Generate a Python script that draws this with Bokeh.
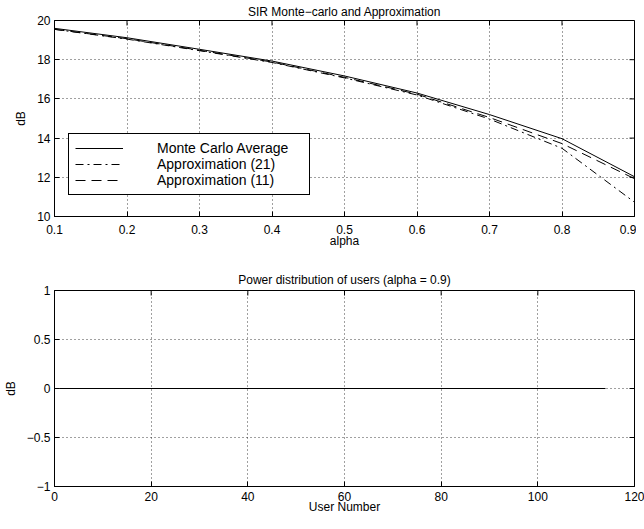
from bokeh.plotting import figure
from bokeh.layouts import column
from bokeh.models import Range1d, FixedTicker, Legend, LegendItem
from bokeh.embed import file_html
from bokeh.resources import INLINE

# ---- data ----
alpha_values = [0.1, 0.2, 0.3, 0.4, 0.5, 0.6, 0.7, 0.8, 0.9]
monte_carlo_avg = [19.6, 19.12, 18.53, 17.93, 17.17, 16.3, 15.2, 13.97, 12.03]
approx_21 = [19.55, 19.05, 18.46, 17.86, 17.07, 16.2, 14.97, 13.48, 10.73]
approx_11 = [19.55, 19.07, 18.48, 17.88, 17.1, 16.24, 15.05, 13.72, 11.93]

user_number = [1, 114]
power_db = [0.0, 0.0]

top_xrange = (0.1, 0.9)
top_yrange = (10, 20)
top_xticks = [0.1, 0.2, 0.3, 0.4, 0.5, 0.6, 0.7, 0.8, 0.9]
top_yticks = [10, 12, 14, 16, 18, 20]

bot_xrange = (0, 120)
bot_yrange = (-1, 1)
bot_xticks = [0, 20, 40, 60, 80, 100, 120]
bot_yticks = [-1, -0.5, 0, 0.5, 1]
bot_ylabels = {-1: "\u22121", -0.5: "\u22120.5", 0: "0", 0.5: "0.5", 1: "1"}

FONT = "Liberation Sans"


def make_fig(title, xr, yr, xticks, yticks, xlabel, ylabel, top_border, bottom_border,
             title_standoff, label_standoff, axis_label_standoff):
    p = figure(frame_width=580, frame_height=196,
               x_range=Range1d(*xr), y_range=Range1d(*yr),
               output_backend="svg", toolbar_location=None,
               min_border_left=45, min_border_right=11,
               min_border_top=top_border, min_border_bottom=bottom_border,
               title=title)
    p.background_fill_color = "white"
    p.border_fill_color = "white"
    p.outline_line_color = "black"
    p.outline_line_alpha = 1
    p.outline_line_width = 1

    p.title.text_font = FONT
    p.title.text_font_size = "12px"
    p.title.text_font_style = "normal"
    p.title.align = "center"
    p.title.standoff = title_standoff
    p.title.text_color = "black"

    xa = p.xaxis[0]
    ya = p.yaxis[0]
    xa.ticker = FixedTicker(ticks=xticks)
    ya.ticker = FixedTicker(ticks=yticks)
    xa.axis_label = xlabel
    ya.axis_label = ylabel
    for ax in (xa, ya):
        ax.major_tick_in = 5
        ax.major_tick_out = 0
        ax.minor_tick_in = 0
        ax.minor_tick_out = 0
        ax.axis_line_color = "black"
        ax.major_tick_line_color = "black"
        ax.major_label_text_font = FONT
        ax.major_label_text_font_size = "12px"
        ax.major_label_text_color = "black"
        ax.axis_label_text_font = FONT
        ax.axis_label_text_font_size = "12px"
        ax.axis_label_text_font_style = "normal"
        ax.axis_label_text_color = "black"
    xa.major_label_standoff = label_standoff
    xa.axis_label_standoff = axis_label_standoff
    ya.major_label_standoff = 4
    ya.axis_label_standoff = 6

    for g, ticks in ((p.xgrid[0], xticks), (p.ygrid[0], yticks)):
        g.ticker = FixedTicker(ticks=ticks)
        g.grid_line_color = "black"
        g.grid_line_alpha = 0.75
        g.grid_line_dash = "1 3"
        g.grid_line_width = 1

    # inward tick marks on the top and right edges of the box
    p.ray(x=xticks, y=[yr[1]] * len(xticks), length=5, length_units="screen",
          angle=-90, angle_units="deg", line_color="black", line_width=1)
    p.ray(x=[xr[1]] * len(yticks), y=yticks, length=5, length_units="screen",
          angle=180, angle_units="deg", line_color="black", line_width=1)
    return p


p1 = make_fig("SIR Monte\u2212carlo and Approximation", top_xrange, top_yrange,
              top_xticks, top_yticks, "alpha", "dB", 18, 35, 4, 8, -3)

r_mc = p1.line(alpha_values, monte_carlo_avg, line_color="black", line_width=1)
r_21 = p1.line(alpha_values, approx_21, line_color="black", line_width=1,
               line_dash="8 4 2 4")
r_11 = p1.line(alpha_values, approx_11, line_color="black", line_width=1,
               line_dash="10 6")

legend = Legend(items=[LegendItem(label="Monte Carlo Average", renderers=[r_mc]),
                       LegendItem(label="Approximation (21)", renderers=[r_21]),
                       LegendItem(label="Approximation (11)", renderers=[r_11])],
                location=(14, 21))
legend.border_line_color = "black"
legend.border_line_width = 1
legend.border_line_alpha = 1
legend.background_fill_color = "white"
legend.background_fill_alpha = 1
legend.label_text_font = FONT
legend.label_text_font_size = "14px"
legend.label_text_color = "black"
legend.padding = 6
legend.margin = 0
legend.spacing = 0
legend.glyph_width = 48
legend.glyph_height = 14
legend.label_height = 14
legend.label_standoff = 34
legend.label_width = 146
p1.add_layout(legend)

p2 = make_fig("Power distribution of users (alpha = 0.9)", bot_xrange, bot_yrange,
              bot_xticks, bot_yticks, "User Number", "dB", 39, 0, 7, 5, -4)
p2.yaxis[0].major_label_overrides = bot_ylabels
p2.line(user_number, power_db, line_color="black", line_width=1)

layout = column(p1, p2, spacing=0)
open("out.html", "w").write(file_html(layout, INLINE))
